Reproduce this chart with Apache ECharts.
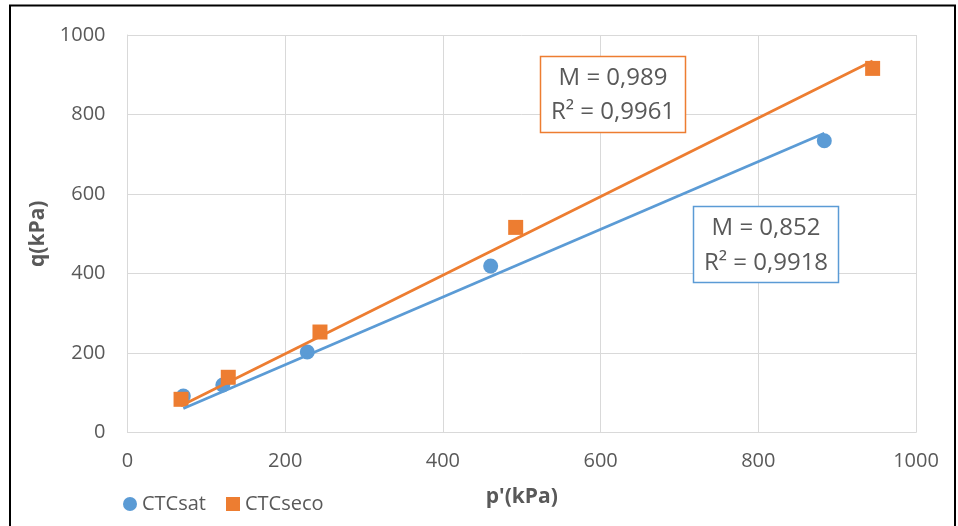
<!DOCTYPE html>
<html>
<head>
<meta charset="utf-8">
<script src="https://cdn.jsdelivr.net/npm/echarts@6/dist/echarts.min.js"></script>
<style>html,body{margin:0;padding:0;background:#fff;}#c{width:958px;height:526px;}</style>
</head>
<body>
<div id="c"></div>
<script>
// Data
const satP = [70.8, 120.9, 228, 460.6, 883.7];
const satQ = [91.8, 119.5, 202.5, 418.9, 734];
const secoP = [67.9, 127.8, 244.1, 492.3, 945];
const secoQ = [83.5, 138.9, 252.8, 516, 916];
const satM = 0.852, satR2 = '0,9918';
const secoM = 0.989, secoR2 = '0,9961';
const xTicks = [0, 200, 400, 600, 800, 1000];
const yTicks = [0, 200, 400, 600, 800, 1000];

const BLUE = '#5B9BD5', ORANGE = '#ED7D31', GRID = '#D9D9D9', TXT = '#595959';
const FONT = '"Open Sans", sans-serif';

function pts(xs, ys) { return xs.map((x, i) => [x, ys[i]]); }
function trend(xs, m) {
  const lo = Math.min(...xs), hi = Math.max(...xs);
  return [[lo, m * lo], [hi, m * hi]];
}

const chart = echarts.init(document.getElementById('c'), null, { renderer: 'canvas' });
chart.setOption({
  animation: false,
  backgroundColor: '#fff',
  textStyle: { fontFamily: FONT },
  grid: { left: 127.5, right: 42, top: 35, bottom: 93.5, containLabel: false },
  xAxis: {
    type: 'value', min: 0, max: 1000, interval: 200,
    name: "p'(kPa)", nameLocation: 'middle', nameGap: 54,
    nameTextStyle: { color: TXT, fontSize: 21, fontWeight: 'bold', fontFamily: FONT },
    axisLine: { show: true, lineStyle: { color: GRID, width: 1 } },
    axisTick: { show: false },
    axisLabel: { color: TXT, fontSize: 20, margin: 19, fontFamily: FONT,
      formatter: v => xTicks.includes(v) ? String(v) : '' },
    splitLine: { show: true, lineStyle: { color: GRID, width: 1 } }
  },
  yAxis: {
    type: 'value', min: 0, max: 1000, interval: 200,
    name: 'q(kPa)', nameLocation: 'middle', nameGap: 76, nameRotate: 90,
    nameTextStyle: { color: TXT, fontSize: 21, fontWeight: 'bold', fontFamily: FONT },
    axisLine: { show: true, lineStyle: { color: GRID, width: 1 } },
    axisTick: { show: false },
    axisLabel: { color: TXT, fontSize: 20, margin: 22, fontFamily: FONT,
      formatter: v => yTicks.includes(v) ? String(v) : '' },
    splitLine: { show: true, lineStyle: { color: GRID, width: 1 } }
  },
  legend: {
    left: 118, top: 489, itemWidth: 14, itemHeight: 14, itemGap: 20,
    textStyle: { color: TXT, fontSize: 20, fontFamily: FONT },
    data: [{ name: 'CTCsat', icon: 'circle' }, { name: 'CTCseco', icon: 'rect' }]
  },
  series: [
    { name: 'CTCsat', type: 'scatter', symbol: 'circle', symbolSize: 15,
      itemStyle: { color: BLUE, opacity: 1 }, data: pts(satP, satQ), z: 2 },
    { name: 'CTCseco', type: 'scatter', symbol: 'rect', symbolSize: 15,
      itemStyle: { color: ORANGE, opacity: 1 }, data: pts(secoP, secoQ), z: 3 },
    { name: 'satTrend', type: 'line', data: trend(satP, satM), showSymbol: false, symbol: 'none',
      lineStyle: { color: BLUE, width: 2.75 }, z: 4, silent: true },
    { name: 'secoTrend', type: 'line', data: trend(secoP, secoM), showSymbol: false, symbol: 'none',
      lineStyle: { color: ORANGE, width: 2.75 }, z: 5, silent: true }
  ],
  graphic: [
    { type: 'rect', shape: { x: 540.5, y: 56.5, width: 145, height: 76 },
      style: { fill: '#fff', stroke: ORANGE, lineWidth: 1.5 }, z: 10 },
    { type: 'text', x: 613, y: 78, z: 11,
      style: { text: 'M = ' + String(secoM).replace('.', ','), fill: TXT, font: '24px ' + FONT, align: 'center', verticalAlign: 'middle' } },
    { type: 'text', x: 613, y: 112, z: 11,
      style: { text: 'R² = ' + secoR2, fill: TXT, font: '24px ' + FONT, align: 'center', verticalAlign: 'middle' } },
    { type: 'rect', shape: { x: 693.5, y: 206.5, width: 145, height: 76 },
      style: { fill: '#fff', stroke: BLUE, lineWidth: 1.5 }, z: 10 },
    { type: 'text', x: 766, y: 228, z: 11,
      style: { text: 'M = ' + String(satM).replace('.', ','), fill: TXT, font: '24px ' + FONT, align: 'center', verticalAlign: 'middle' } },
    { type: 'text', x: 766, y: 263, z: 11,
      style: { text: 'R² = ' + satR2, fill: TXT, font: '24px ' + FONT, align: 'center', verticalAlign: 'middle' } },
    { type: 'rect', shape: { x: 10, y: 5.5, width: 945, height: 530 },
      style: { fill: 'none', stroke: '#000', lineWidth: 2 }, z: 20, silent: true }
  ]
});
</script>
</body>
</html>
